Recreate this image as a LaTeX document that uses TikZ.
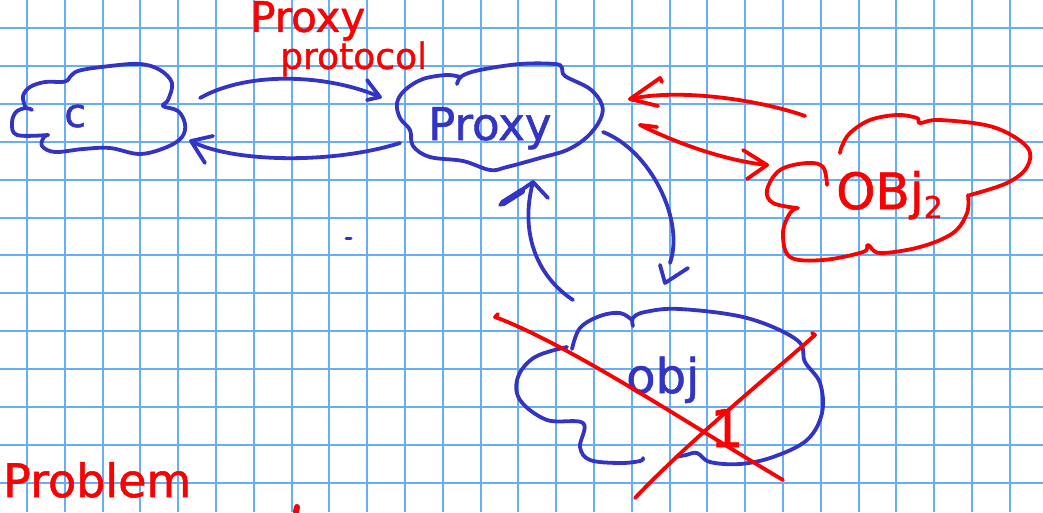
\documentclass[tikz,border=0pt]{standalone}
\usepackage{fontspec}
\setmainfont{DejaVu Sans}[FakeBold=1.2]
\definecolor{ink}{RGB}{52,52,196}
\definecolor{redink}{RGB}{250,0,0}
\definecolor{gridblue}{RGB}{105,172,248}
\tikzset{
  pen/.style={line width=3.8pt, line cap=round, line join=round},
  bluepen/.style={pen, draw=ink},
  redpen/.style={pen, draw=redink},
  gridline/.style={draw=gridblue, line width=2pt},
  bluetext/.style={text=ink, inner sep=0pt},
  redtext/.style={text=redink, inner sep=0pt},
  cloudline/.style={smooth, tension=0.6}
}
\begin{document}
\begin{tikzpicture}[x=1pt,y=-1pt]
\useasboundingbox[fill=white] (0,0) rectangle (1043,512);
% grid paper
\foreach \i in {0,...,26} \draw[gridline] ({27+37.8*\i},0) -- ({27+37.8*\i},512);
\foreach \j in {0,...,12} \draw[gridline] (0,{28.3+37.85*\j}) -- (1043,{28.3+37.85*\j});

% ---------- cloud C ----------
\draw[bluepen] plot[cloudline] coordinates {(68,80) (78,71) (110,66) (140,64) (160,70) (172,83) (168,100) (163,106) (178,111) (185,124) (182,137) (167,147) (140,154) (110,148) (83,149) (55,152) (42,146) (44,137) (48,135)};
\draw[bluepen] plot[cloudline] coordinates {(48,135) (17,135) (12,123) (16,112) (26,108) (32,110)};
\draw[bluepen] plot[cloudline] coordinates {(25,106) (23,96) (30,87) (45,82) (62,82) (68,80)};
\node[bluetext, anchor=base west, font=\fontsize{40}{40}\selectfont] (c) at (64,127) {c};

% ---------- cloud Proxy ----------
\draw[bluepen] plot[cloudline] coordinates {(457,84) (462,76) (480,70) (520,64) (555,64) (562,68) (565,76) (590,89) (602,105) (600,120) (587,137) (567,150) (540,158) (507,167) (490,170) (463,161) (430,157) (413,146) (410,130) (400,118) (397,103) (405,90) (423,79) (447,75) (460,77)};
\node[bluetext, anchor=base west, font=\fontsize{45}{45}\selectfont] (proxy) at (428,140) {Proxy};

% ---------- cloud obj ----------
\draw[bluepen] plot[cloudline] coordinates {(633,326) (633,318) (645,312) (680,309) (747,318) (797,340) (805,362) (820,383) (822,413) (807,440) (773,457) (740,464) (710,462) (697,453) (686,455) (676,457)};
\draw[bluepen] plot[cloudline] coordinates {(572,349) (580,328) (600,316) (620,313) (632,320)};
\draw[bluepen] plot[cloudline] coordinates {(567,347) (535,357) (518,377) (520,400) (547,420) (583,423) (580,447) (590,460) (620,463) (640,461) (643,458)};
\node[bluetext, anchor=base west, font=\fontsize{48}{48}\selectfont] (obj) at (626,393) {obj};

% ---------- cloud OBj2 ----------
\draw[redpen] plot[cloudline] coordinates {(840,153) (842,146) (850,133) (870,120) (897,115) (917,118) (920,123) (940,120) (993,127) (1027,147) (1027,167) (1007,183) (970,195)};
\draw[redpen] plot[cloudline] coordinates {(968,195) (967,213) (953,233) (920,247) (880,253) (868,245) (863,252) (823,260) (790,257) (783,233) (790,213) (798,208)};
\draw[redpen] plot[cloudline] coordinates {(797,208) (773,203) (767,190) (780,170) (807,163) (823,167) (827,185)};
\node[redtext, anchor=base west, font=\fontsize{50}{50}\selectfont] (obj2) at (836,209) {OBj{\fontsize{30}{30}\selectfont\raisebox{-9pt}{2}}};

% ---------- labels ----------
\node[redtext, anchor=north west, align=left, font=\fontsize{36}{31}\selectfont] (protolabel) at (250,1) {{\fontsize{42}{31}\selectfont Proxy}\\\hspace*{30pt}protocol};
\node[redtext, anchor=base west, font=\fontsize{46}{46}\selectfont] (problem) at (3,497) {Problem};
\node[redtext, anchor=base west, font=\fontsize{52}{52}\selectfont] (one) at (710,447) {1};

% ---------- connector end points ----------
\coordinate (cp1) at (200,98);   \coordinate (cp2) at (380,97);
\coordinate (pc1) at (400,143);  \coordinate (pc2) at (191,141);
\coordinate (po1) at (603,132);  \coordinate (po2) at (670,263);
\coordinate (op1) at (573,300);  \coordinate (op2) at (533,182);
\coordinate (rp1) at (805,116);  \coordinate (rp2) at (630,99);
\coordinate (pr1) at (640,125);  \coordinate (pr2) at (767,165);

% C -> Proxy
\draw[bluepen] (cp1) .. controls (250,70) and (330,75) .. (cp2);
\draw[bluepen] (367,80) -- (cp2) -- (367,100);
% Proxy -> C
\draw[bluepen] (pc1) .. controls (330,165) and (230,162) .. (pc2);
\draw[bluepen] (213,136) -- (pc2) -- (205,163);
% Proxy -> obj
\draw[bluepen] (po1) .. controls (650,150) and (685,220) .. (po2);
\draw[bluepen] (660,265) -- (665,283) -- (688,268);
% obj -> Proxy
\draw[bluepen] (op1) .. controls (535,275) and (520,230) .. (op2);
\draw[bluepen] (500,205) -- (op2) -- (548,198);
\draw[ink, line width=6.5pt, line cap=round] (503,203) -- (522,191);
% OBj2 -> Proxy
\draw[redpen] (rp1) .. controls (760,100) and (680,88) .. (rp2);
\draw[redpen] (662,82) -- (660,78) -- (rp2) -- (658,106);
% Proxy <-> OBj2
\draw[redpen] (pr1) .. controls (670,140) and (720,160) .. (pr2);
\draw[redpen] (pr1) -- (657,127);
\draw[redpen] (743,150) -- (pr2) -- (747,179);

% ---------- red cross over obj ----------
\draw[redpen] (498,314) -- (495,317) .. controls (570,345) and (690,425) .. (783,480);
\draw[redpen] (812,333) -- (815,335) .. controls (770,375) and (690,440) .. (635,498);

% small marks
\draw[ink, line width=3pt, line cap=round] (346,238) -- (351,238);
\draw[redink, line width=6pt, line cap=round] (297,507) -- (296,512);
\end{tikzpicture}
\end{document}
